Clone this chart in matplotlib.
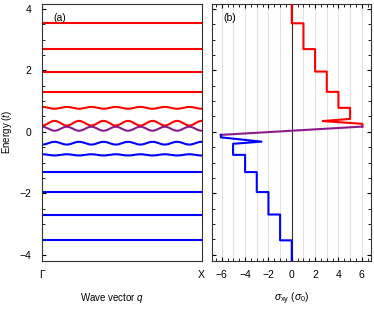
import numpy as np
import matplotlib.pyplot as plt
from matplotlib.ticker import MultipleLocator

plt.rcParams['font.family'] = ['Liberation Sans', 'DejaVu Sans']
plt.rcParams['font.size'] = 7.5
plt.rcParams['mathtext.fontset'] = 'custom'
plt.rcParams['mathtext.rm'] = 'Liberation Sans'
plt.rcParams['mathtext.it'] = 'Liberation Sans:italic'

# (a) Landau-level bands: centre energy, half-width, sign of the ripple, colour
band_center = [3.53, 2.69, 1.96, 1.30, 0.78, 0.28, 0.10, -0.37, -0.75, -1.31, -1.96, -2.69, -3.53]
band_amp = [0.0, 0.0, 0.0, 0.0, 0.03, 0.075, 0.065, 0.045, 0.02, 0.0, 0.0, 0.0, 0.0]
band_sign = [1, 1, 1, 1, 1, -1, 1, -1, 1, 1, 1, 1, 1]
band_color = ['red'] * 6 + ['#8b1a8b'] + ['blue'] * 6
n_periods = 6.5

# (b) Hall conductivity trace (sigma_xy, energy)
red_sigma = [0, 0, 1, 1, 2, 2, 3, 3, 4, 4, 5, 5, 2.65, 6.05, 6.05]
red_energy = [4.2, 3.53, 3.53, 2.69, 2.69, 1.96, 1.96, 1.30, 1.30, 0.78, 0.78, 0.42, 0.35, 0.26, 0.17]
purple_sigma = [6.05, -6.08]
purple_energy = [0.17, -0.10]
blue_sigma = [-6.08, -6.08, -2.6, -5.03, -5.03, -4, -4, -3, -3, -2, -2, -1, -1, 0, 0]
blue_energy = [-0.10, -0.18, -0.32, -0.39, -0.75, -0.75, -1.31, -1.31, -1.96, -1.96, -2.69, -2.69, -3.53, -3.53, -4.2]

fig = plt.figure(figsize=(3.74, 3.14), dpi=100)
ax1 = fig.add_axes([0.113, 0.170, 0.426, 0.8175])
ax2 = fig.add_axes([0.568, 0.170, 0.4243, 0.8175])

q = np.linspace(0, 1, 400)
for e0, a, s, c in zip(band_center, band_amp, band_sign, band_color):
    ax1.plot(q, e0 + s * a * np.cos(2 * np.pi * n_periods * q), color=c, lw=1.5)

ylim = (-4.19, 4.16)
ax1.set_xlim(0, 1)
ax1.set_ylim(*ylim)
ax1.set_xticks([0, 1], ['Γ', 'X'])
ax1.tick_params(axis='x', length=0, pad=7)
ax1.yaxis.set_major_locator(MultipleLocator(2))
ax1.yaxis.set_minor_locator(MultipleLocator(0.5))
ax1.set_yticks([-4, -2, 0, 2, 4], ['−4', '−2', '0', '2', '4'])
ax1.tick_params(axis='y', which='both', direction='in', pad=8)
ax1.tick_params(axis='y', which='major', length=3)
ax1.tick_params(axis='y', which='minor', length=2)
ax1.set_xlabel(r'Wave vector $q$', fontsize=7)
ax1.xaxis.set_label_coords(0.44, -0.118)
ax1.set_ylabel(r'Energy ($t$)', fontsize=7)
ax1.yaxis.set_label_coords(-0.175, 0.5)
ax1.text(0.07, 0.965, '(a)', transform=ax1.transAxes, va='top')

for x in range(-6, 7):
    ax2.axvline(x, color='#e2e2e2', lw=0.8, zorder=0)
ax2.axvline(0, color='#333333', lw=0.8, zorder=1)
ax2.plot(red_sigma, red_energy, color='red', lw=1.5, zorder=3)
ax2.plot(purple_sigma, purple_energy, color='#8b1a8b', lw=1.5, zorder=3)
ax2.plot(blue_sigma, blue_energy, color='blue', lw=1.5, zorder=3)
ax2.set_xlim(-6.8, 6.8)
ax2.set_ylim(*ylim)
ax2.set_xticks([-6, -4, -2, 0, 2, 4, 6], ['−6', '−4', '−2', '0', '2', '4', '6'])
ax2.xaxis.set_minor_locator(MultipleLocator(0.5))
ax2.yaxis.set_major_locator(MultipleLocator(2))
ax2.yaxis.set_minor_locator(MultipleLocator(0.5))
ax2.tick_params(which='both', direction='in', top=True, right=True, labelleft=False)
ax2.tick_params(which='major', length=3)
ax2.tick_params(which='minor', length=2)
ax2.tick_params(axis='x', pad=7)
ax2.set_xlabel(r'$\sigma_{\rm xy}$ ($\sigma_0$)', fontsize=7.5)
ax2.xaxis.set_label_coords(0.5, -0.118)
ax2.text(0.07, 0.965, '(b)', transform=ax2.transAxes, va='top')

for ax in (ax1, ax2):
    for sp in ax.spines.values():
        sp.set_color('#333333')
        sp.set_linewidth(0.8)

fig.savefig('out.png', dpi=100)
